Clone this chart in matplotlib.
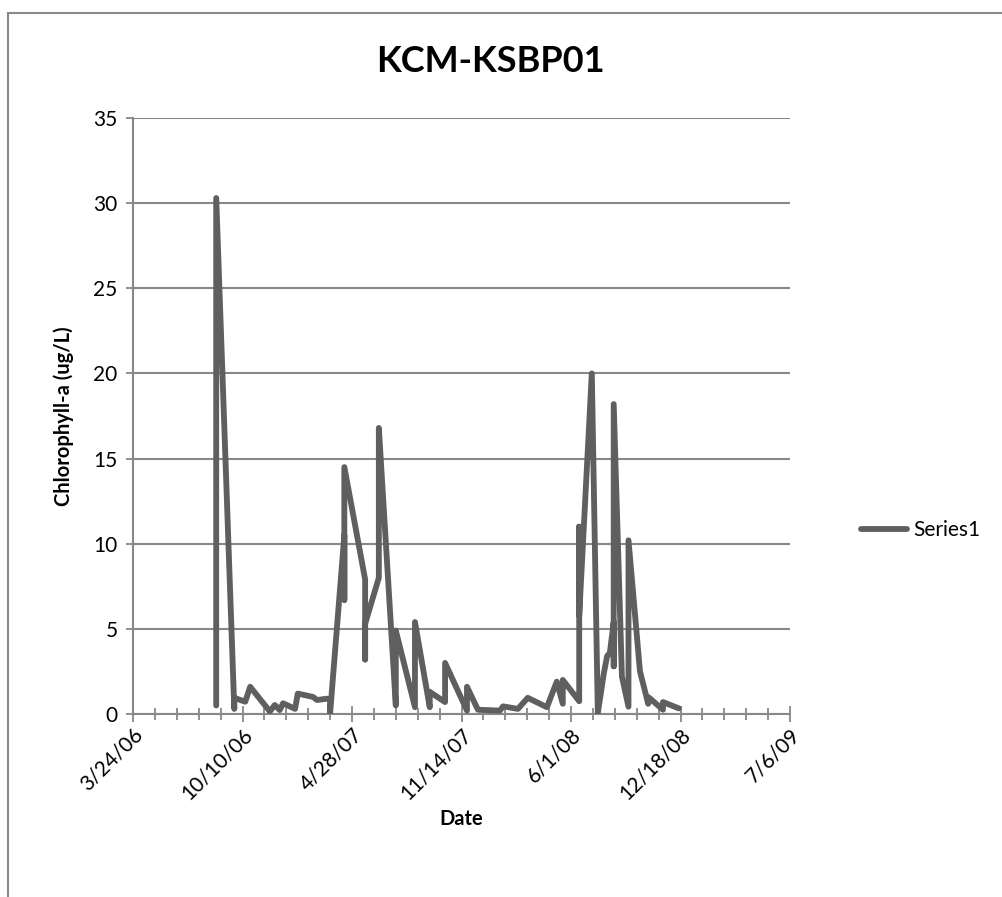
import pandas as pd
import numpy as np
import matplotlib
matplotlib.use('Agg')
import matplotlib.pyplot as plt
import matplotlib.dates as mdates
from matplotlib.ticker import FixedLocator, FuncFormatter, MultipleLocator
from matplotlib.patches import Rectangle

plt.rcParams['font.family'] = ['Lato', 'DejaVu Sans']

# 采样日期（同一天可能有多个样本）
dates = ['2006-08-23', '2006-08-23',
         '2006-09-25', '2006-09-25',
         '2006-10-15', '2006-10-24', '2006-11-29', '2006-12-08',
         '2006-12-17', '2006-12-23', '2007-01-14', '2007-01-19',
         '2007-02-16', '2007-02-23', '2007-03-13',
         '2007-03-19', '2007-03-19',
         '2007-04-14', '2007-04-14', '2007-04-14',
         '2007-05-22', '2007-05-22', '2007-05-22',
         '2007-06-16', '2007-06-16', '2007-06-16',
         '2007-07-17', '2007-07-17',
         '2007-08-21', '2007-08-21',
         '2007-09-17', '2007-09-17',
         '2007-10-15', '2007-10-15',
         '2007-11-24', '2007-11-24',
         '2007-12-14', '2008-01-23', '2008-01-29', '2008-02-25',
         '2008-03-14', '2008-04-18', '2008-05-06',
         '2008-05-17', '2008-05-17',
         '2008-06-16', '2008-06-16', '2008-06-16',
         '2008-07-09', '2008-07-20', '2008-07-31', '2008-08-06', '2008-08-11',
         '2008-08-18', '2008-08-18', '2008-08-18',
         '2008-09-02',
         '2008-09-14', '2008-09-14',
         '2008-10-05',
         '2008-10-20', '2008-10-20',
         '2008-11-16', '2008-11-16',
         '2008-12-15']

chla = [0.5, 30.3,
        0.3, 0.95,
        0.72, 1.6, 0.15, 0.53,
        0.23, 0.63, 0.3, 1.2,
        1.0, 0.82, 0.9,
        0.85, 0.05,
        10.5, 6.7, 14.5,
        7.9, 3.2, 5.3,
        8.0, 11.5, 16.8,
        0.5, 4.9,
        0.4, 5.4,
        0.4, 1.3,
        0.7, 3.0,
        0.2, 1.6,
        0.25, 0.2, 0.45, 0.3,
        0.95, 0.4, 1.9,
        0.6, 2.0,
        0.75, 11.0, 5.8,
        20.0, 0.05, 2.4, 3.4, 3.6,
        5.4, 2.8, 18.2,
        2.2,
        0.43, 10.2,
        2.5,
        0.6, 1.0,
        0.25, 0.7,
        0.33]

x_start = '2006-03-24'
x_end = '2009-07-06'
major_ticks = pd.date_range(x_start, x_end, freq='200D')
minor_ticks = pd.date_range(x_start, x_end, freq='40D')

fig = plt.figure(figsize=(10.03, 8.97), dpi=100)
ax = fig.add_axes([133 / 1003, 1 - 714 / 897, 657 / 1003, 596 / 897])

grey = '#888888'
ax.plot(pd.to_datetime(dates), chla, color='#5f5f5f', lw=4.2,
        solid_joinstyle='round', solid_capstyle='round', label='Series1', zorder=3)

ax.set_xlim(mdates.date2num(pd.Timestamp(x_start)), mdates.date2num(pd.Timestamp(x_end)))
ax.set_ylim(0, 35)
ax.yaxis.set_major_locator(MultipleLocator(5))
ax.xaxis.set_major_locator(FixedLocator(mdates.date2num(major_ticks)))
ax.xaxis.set_minor_locator(FixedLocator(mdates.date2num(minor_ticks)))

def fmt_date(v, pos):
    d = mdates.num2date(v)
    return f'{d.month}/{d.day}/{d:%y}'

ax.xaxis.set_major_formatter(FuncFormatter(fmt_date))
ax.grid(axis='y', color=grey, lw=1.5, zorder=1)
for s in ['top', 'right']:
    ax.spines[s].set_visible(False)
for s in ['left', 'bottom']:
    ax.spines[s].set_color(grey)
    ax.spines[s].set_linewidth(1.5)

ax.tick_params(axis='y', length=5, width=1.3, color=grey, labelsize=15, pad=6)
ax.tick_params(axis='x', which='major', direction='inout', length=11, width=1.3,
               color=grey, labelsize=15, pad=2)
ax.tick_params(axis='x', which='minor', direction='inout', length=8, width=1.3, color=grey)
for lab in ax.get_xticklabels():
    lab.set_rotation(45)
    lab.set_ha('right')
    lab.set_rotation_mode('anchor')

ax.set_xlabel('Date', fontsize=14.5, fontweight='bold', labelpad=4)
ax.set_ylabel('Chlorophyll-a (ug/L)', fontsize=14.5, fontweight='bold', labelpad=14)
fig.text(490 / 1003, 1 - 62 / 897, 'KCM-KSBP01', fontsize=26, fontweight='bold',
         ha='center', va='center')

fig.legend(loc='center left', bbox_to_anchor=(842 / 1003, 1 - 530 / 897), frameon=False,
           fontsize=15, handlelength=2.2, handletextpad=0.3)

# 图表外框
fig.add_artist(Rectangle((8 / 1003, -0.05), 1.2, 1 - 13 / 897 + 0.05,
                         transform=fig.transFigure, fill=False, edgecolor='#8a8a8a', lw=1.5))

fig.savefig('out.png', dpi=100)
